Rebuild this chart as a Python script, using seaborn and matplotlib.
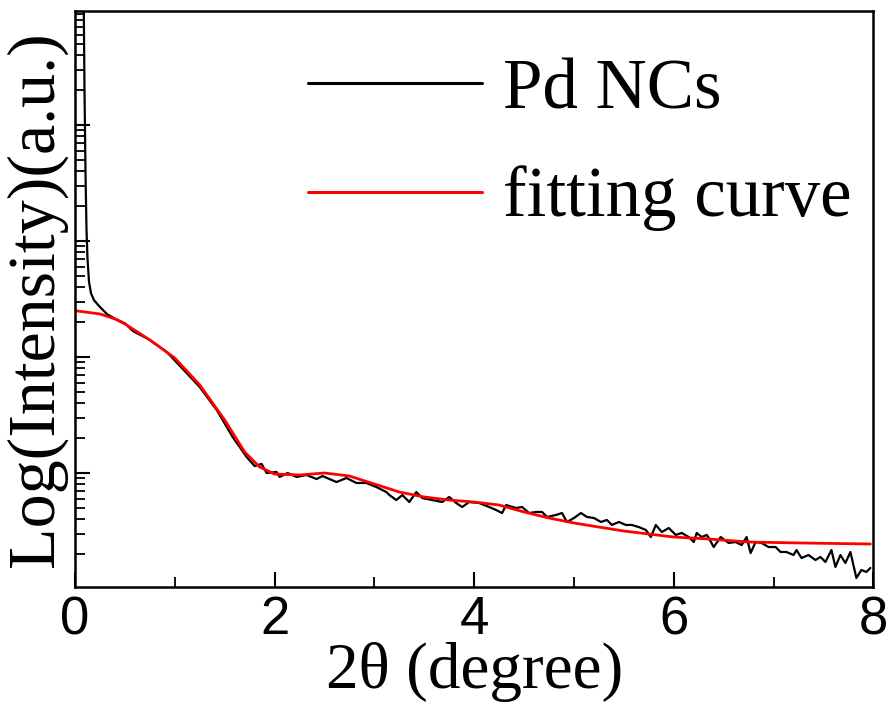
import numpy as np
import pandas as pd
import matplotlib
matplotlib.use("Agg")
import matplotlib.pyplot as plt
from matplotlib.ticker import FixedLocator, MultipleLocator, NullFormatter
import seaborn as sns

# Pd NCs (measured), 2theta in degree, log10 of intensity (a.u.)
pd_two_theta = [
    0.085, 0.095, 0.105, 0.115, 0.125, 0.14, 0.16, 0.19, 0.24, 0.32,
    0.40, 0.50, 0.58, 0.75, 0.92, 1.08, 1.25, 1.42, 1.58, 1.65,
    1.72, 1.80, 1.87, 1.92, 2.02, 2.05, 2.13, 2.22, 2.32, 2.42,
    2.48, 2.55, 2.62, 2.72, 2.82, 2.92, 3.02, 3.12, 3.15, 3.22,
    3.28, 3.35, 3.42, 3.48, 3.58, 3.68, 3.75, 3.82, 3.88, 3.95,
    4.05, 4.15, 4.22, 4.28, 4.32, 4.42, 4.48, 4.55, 4.62, 4.68,
    4.73, 4.82, 4.88, 4.93, 5.00, 5.07, 5.13, 5.20, 5.27, 5.33,
    5.38, 5.45, 5.52, 5.58, 5.65, 5.72, 5.77, 5.82, 5.88, 5.95,
    6.02, 6.08, 6.15, 6.20, 6.23, 6.28, 6.33, 6.35, 6.40, 6.47,
    6.55, 6.62, 6.68, 6.73, 6.77, 6.82, 6.88, 6.95, 7.02, 7.07,
    7.13, 7.20, 7.23, 7.28, 7.35, 7.42, 7.47, 7.52, 7.58, 7.62,
    7.67, 7.72, 7.77, 7.80, 7.83, 7.88, 7.93, 7.97,
]
pd_log_int = [
    5.30, 4.30, 3.60, 3.10, 2.85, 2.65, 2.55, 2.49, 2.44, 2.37,
    2.33, 2.29, 2.224, 2.147, 2.043, 1.897, 1.741, 1.543, 1.310, 1.224,
    1.138, 1.060, 1.078, 1.000, 1.009, 0.966, 1.000, 0.966, 0.983, 0.948,
    0.974, 0.948, 0.922, 0.957, 0.914, 0.914, 0.879, 0.836, 0.810, 0.767,
    0.810, 0.750, 0.836, 0.784, 0.767, 0.750, 0.793, 0.741, 0.707, 0.750,
    0.741, 0.707, 0.681, 0.655, 0.724, 0.698, 0.707, 0.655, 0.664, 0.664,
    0.621, 0.638, 0.655, 0.578, 0.612, 0.655, 0.621, 0.612, 0.578, 0.595,
    0.552, 0.578, 0.552, 0.552, 0.534, 0.509, 0.448, 0.552, 0.491, 0.526,
    0.466, 0.483, 0.448, 0.405, 0.483, 0.448, 0.466, 0.440, 0.362, 0.448,
    0.397, 0.405, 0.379, 0.448, 0.310, 0.405, 0.397, 0.362, 0.362, 0.319,
    0.319, 0.293, 0.336, 0.267, 0.293, 0.250, 0.276, 0.233, 0.336, 0.190,
    0.293, 0.224, 0.319, 0.207, 0.095, 0.164, 0.147, 0.181,
]

# fitting curve
fit_two_theta = [
    0.02, 0.25, 0.40, 0.50, 0.75, 1.00, 1.25, 1.50, 1.70, 1.85,
    2.00, 2.25, 2.50, 2.75, 3.00, 3.25, 3.50, 3.75, 4.00, 4.25,
    4.50, 4.75, 5.00, 5.25, 5.50, 5.75, 6.00, 6.35, 6.75, 7.25,
    7.97,
]
fit_log_int = [
    2.397, 2.371, 2.328, 2.285, 2.147, 1.991, 1.759, 1.457, 1.181, 1.052,
    0.991, 0.983, 1.000, 0.974, 0.905, 0.836, 0.793, 0.767, 0.750, 0.724,
    0.664, 0.612, 0.569, 0.534, 0.500, 0.474, 0.448, 0.431, 0.405, 0.397,
    0.388,
]

df_pd = pd.DataFrame({"x": pd_two_theta, "y": np.power(10.0, pd_log_int)})
df_fit = pd.DataFrame({"x": fit_two_theta, "y": np.power(10.0, fit_log_int)})

sns.set_style("ticks")
plt.rcParams["font.family"] = ["Liberation Serif", "DejaVu Serif"]
plt.rcParams["text.color"] = "black"
plt.rcParams["axes.labelcolor"] = "black"
plt.rcParams["xtick.color"] = "black"
plt.rcParams["ytick.color"] = "black"
plt.rcParams["axes.edgecolor"] = "black"

fig, ax = plt.subplots(figsize=(8.93, 7.06), dpi=100)
fig.subplots_adjust(left=0.084, right=0.978, top=0.984, bottom=0.169)

sns.lineplot(data=df_pd, x="x", y="y", ax=ax, color="black", lw=1.6,
             estimator=None, sort=False, label="Pd NCs")
sns.lineplot(data=df_fit, x="x", y="y", ax=ax, color="#ff0000", lw=2.0,
             estimator=None, sort=False, label="fitting curve")

ax.set_yscale("log")
ax.set_xlim(0, 8)
ax.set_ylim(10 ** 0.02, 10 ** 4.98)

# log ticks without labels
major_y = [10.0 ** d for d in range(0, 6)]
minor_y = [k * 10.0 ** d for d in range(0, 5) for k in range(2, 10)]
ax.xaxis.set_major_locator(MultipleLocator(2))
ax.xaxis.set_minor_locator(MultipleLocator(1))
ax.yaxis.set_major_locator(FixedLocator(major_y))
ax.yaxis.set_minor_locator(FixedLocator(minor_y))
ax.yaxis.set_major_formatter(NullFormatter())
ax.yaxis.set_minor_formatter(NullFormatter())

ax.tick_params(axis="both", which="major", direction="in", length=11, width=1.5)
ax.tick_params(axis="both", which="minor", direction="in", length=7, width=1.3)
ax.tick_params(axis="x", which="both", top=False, labelsize=38, pad=6)
ax.tick_params(axis="y", which="both", left=True, right=False)
for lbl in ax.get_xticklabels():
    lbl.set_family(["Liberation Sans", "DejaVu Sans"])

for sp in ax.spines.values():
    sp.set_linewidth(1.8)
    sp.set_color("black")
    sp.set_visible(True)

ax.set_xlabel("2θ (degree)", fontsize=47, labelpad=-2)
ax.set_ylabel("Log(Intensity)(a.u.)", fontsize=49, labelpad=2)

leg = ax.legend(loc="upper right", bbox_to_anchor=(1.008, 0.968),
                frameon=False, fontsize=51,
                handlelength=2.45, handletextpad=0.3, labelspacing=0.6,
                borderaxespad=0.0)
for h in leg.get_lines():
    h.set_linewidth(2.2)

fig.savefig("out.png", dpi=100)
